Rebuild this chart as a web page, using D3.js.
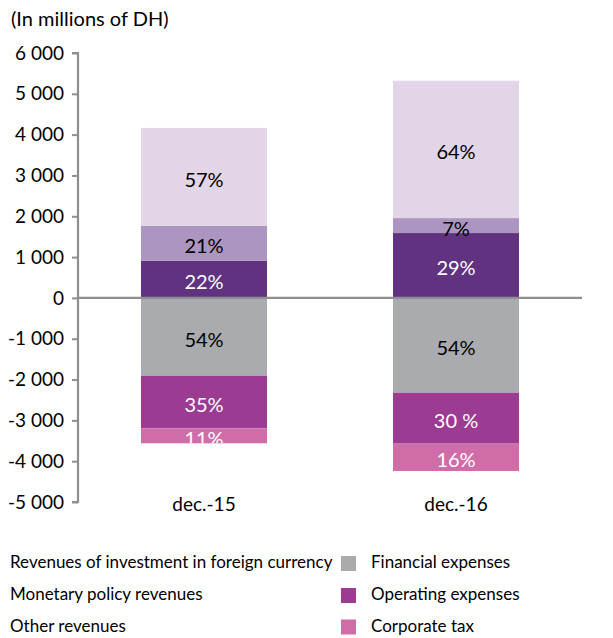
<!DOCTYPE html>
<html><head><meta charset="utf-8">
<script src="https://cdn.jsdelivr.net/npm/d3@7"></script>
<style>
body{margin:0;background:#fff;}
text{font-family:Lato,"Open Sans",sans-serif;}
</style></head>
<body><svg id="c" width="613" height="638"></svg>
<script>
const categories = ["dec.-15", "dec.-16"];
const seriesNames = ["Monetary policy revenues", "Other revenues", "Revenues of investment in foreign currency",
  "Financial expenses", "Operating expenses", "Corporate tax"];
// values in millions of DH (stacked: positives up, negatives down)
const monetaryPolicy = [912, 1589];
const otherRevenues = [856, 367];
const foreignCurrency = [2396, 3364];
const financialExp = [-1907, -2323];
const operatingExp = [-1289, -1247];
const corporateTax = [-366, -670];
const labels = {
  "Monetary policy revenues": ["22%", "29%"],
  "Other revenues": ["21%", "7%"],
  "Revenues of investment in foreign currency": ["57%", "64%"],
  "Financial expenses": ["54%", "54%"],
  "Operating expenses": ["35%", "30 %"],
  "Corporate tax": ["11%", "16%"]
};
const yTicks = [6000, 5000, 4000, 3000, 2000, 1000, 0, -1000, -2000, -3000, -4000, -5000];
const legendLeft = ["Revenues of investment in foreign currency", "Monetary policy revenues", "Other revenues"];
const legendRight = ["Financial expenses", "Operating expenses", "Corporate tax"];

const values = {
  "Monetary policy revenues": monetaryPolicy,
  "Other revenues": otherRevenues,
  "Revenues of investment in foreign currency": foreignCurrency,
  "Financial expenses": financialExp,
  "Operating expenses": operatingExp,
  "Corporate tax": corporateTax
};
const colors = {
  "Monetary policy revenues": "#60327f",
  "Other revenues": "#ad95c1",
  "Revenues of investment in foreign currency": "#e1d5e7",
  "Financial expenses": "#a9abaf",
  "Operating expenses": "#9b3b92",
  "Corporate tax": "#d06da8"
};
const textColors = {
  "Monetary policy revenues": "#fff",
  "Other revenues": "#000",
  "Revenues of investment in foreign currency": "#000",
  "Financial expenses": "#000",
  "Operating expenses": "#fff",
  "Corporate tax": "#fff"
};

const svg = d3.select("#c");
const y = d3.scaleLinear().domain([-5000, 6000]).range([502, 53]);
const x = d3.scaleBand().domain(categories).range([78, 582]).paddingInner(0.5).paddingOuter(0.25);

// title
svg.append("text").attr("x", 11).attr("y", 26).attr("font-size", 20).attr("fill", "#000")
  .text("(In millions of DH)");

// y axis
const yAxis = d3.axisLeft(y).tickValues(yTicks).tickSize(6)
  .tickFormat(d => d3.format(",")(d).replace(/,/g, " ").replace("\u2212", "-"));
const ga = svg.append("g").attr("transform", "translate(78,0)").call(yAxis);
ga.select(".domain").attr("stroke", "#8e8e93").attr("stroke-width", 2.2)
  .attr("d", `M-6,${y(6000)}H0V${y(-5000)}H-6`);
ga.selectAll(".tick line").attr("stroke", "#8e8e93").attr("stroke-width", 2);
ga.selectAll(".tick text").attr("font-size", 19).attr("fill", "#000").attr("x", -14)
  .attr("font-family", "Lato, sans-serif");

// stacked bars
categories.forEach((cat, i) => {
  let pos = 0, neg = 0;
  const segs = [];
  seriesNames.forEach(s => {
    const v = values[s][i];
    let y0, y1;
    if (v >= 0) { y0 = pos; y1 = pos + v; pos = y1; }
    else { y0 = neg; y1 = neg + v; neg = y1; }
    segs.push({s, y0, y1});
  });
  const clipId = "clip" + i;
  svg.append("clipPath").attr("id", clipId).append("rect")
    .attr("x", x(cat)).attr("width", x.bandwidth())
    .attr("y", y(pos)).attr("height", y(neg) - y(pos));
  const g = svg.append("g");
  segs.forEach(d => {
    g.append("rect").attr("x", x(cat)).attr("width", x.bandwidth())
      .attr("y", y(Math.max(d.y0, d.y1))).attr("height", Math.abs(y(d.y0) - y(d.y1)))
      .attr("fill", colors[d.s]);
  });
  const gl = svg.append("g").attr("clip-path", `url(#${clipId})`);
  segs.forEach(d => {
    gl.append("text").attr("x", x(cat) + x.bandwidth() / 2)
      .attr("y", (y(d.y0) + y(d.y1)) / 2 + 3)
      .attr("dy", "0.35em").attr("text-anchor", "middle")
      .attr("font-size", 20).attr("fill", textColors[d.s])
      .text(labels[d.s][i]);
  });
  svg.append("text").attr("x", x(cat) + x.bandwidth() / 2).attr("y", 511)
    .attr("text-anchor", "middle").attr("font-size", 19).attr("fill", "#000").text(cat);
});

// zero line
svg.append("line").attr("x1", 78).attr("x2", 582).attr("y1", y(0)).attr("y2", y(0))
  .attr("stroke", "#8e8e93").attr("stroke-width", 2.2);

// legend
const rowY = [568, 600, 631.5];
legendLeft.forEach((s, k) => {
  svg.append("text").attr("x", 10).attr("y", rowY[k])
    .attr("font-size", 17).attr("fill", "#000").text(s);
});
legendRight.forEach((s, k) => {
  svg.append("rect").attr("x", 341).attr("y", rowY[k] - 12).attr("width", 15).attr("height", 15)
    .attr("fill", colors[s]);
  svg.append("text").attr("x", 371).attr("y", rowY[k])
    .attr("font-size", 17).attr("fill", "#000").text(s);
});
</script></body></html>
